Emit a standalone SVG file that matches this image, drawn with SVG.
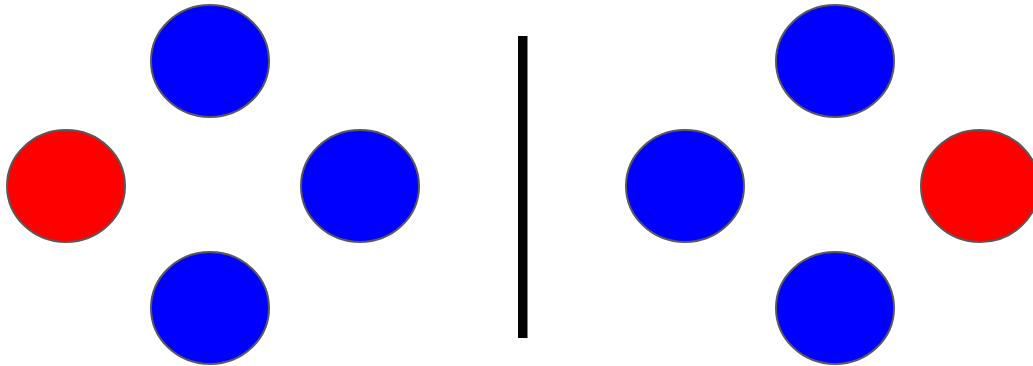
<svg xmlns="http://www.w3.org/2000/svg" width="1033" height="366" viewBox="0 0 1033 366">
<style>
.n{stroke:#595959;stroke-width:2}
.b{fill:#0000ff}
.r{fill:#ff0000}
</style>
<rect width="1033" height="366" fill="#ffffff"/>
<g id="left-top"><ellipse class="n b" cx="210" cy="61" rx="59" ry="56"/></g>
<g id="left-left"><ellipse class="n r" cx="66" cy="186" rx="59" ry="56"/></g>
<g id="left-right"><ellipse class="n b" cx="360" cy="186" rx="59" ry="56"/></g>
<g id="left-bottom"><ellipse class="n b" cx="210" cy="308" rx="59" ry="56"/></g>
<g id="divider"><rect x="518" y="36" width="9.5" height="302" fill="#000000"/></g>
<g id="right-top"><ellipse class="n b" cx="835" cy="61" rx="59" ry="56"/></g>
<g id="right-left"><ellipse class="n b" cx="685" cy="186" rx="59" ry="56"/></g>
<g id="right-right"><ellipse class="n r" cx="980" cy="186" rx="59" ry="56"/></g>
<g id="right-bottom"><ellipse class="n b" cx="835" cy="308" rx="59" ry="56"/></g>
<g id="connectors"></g>
</svg>
